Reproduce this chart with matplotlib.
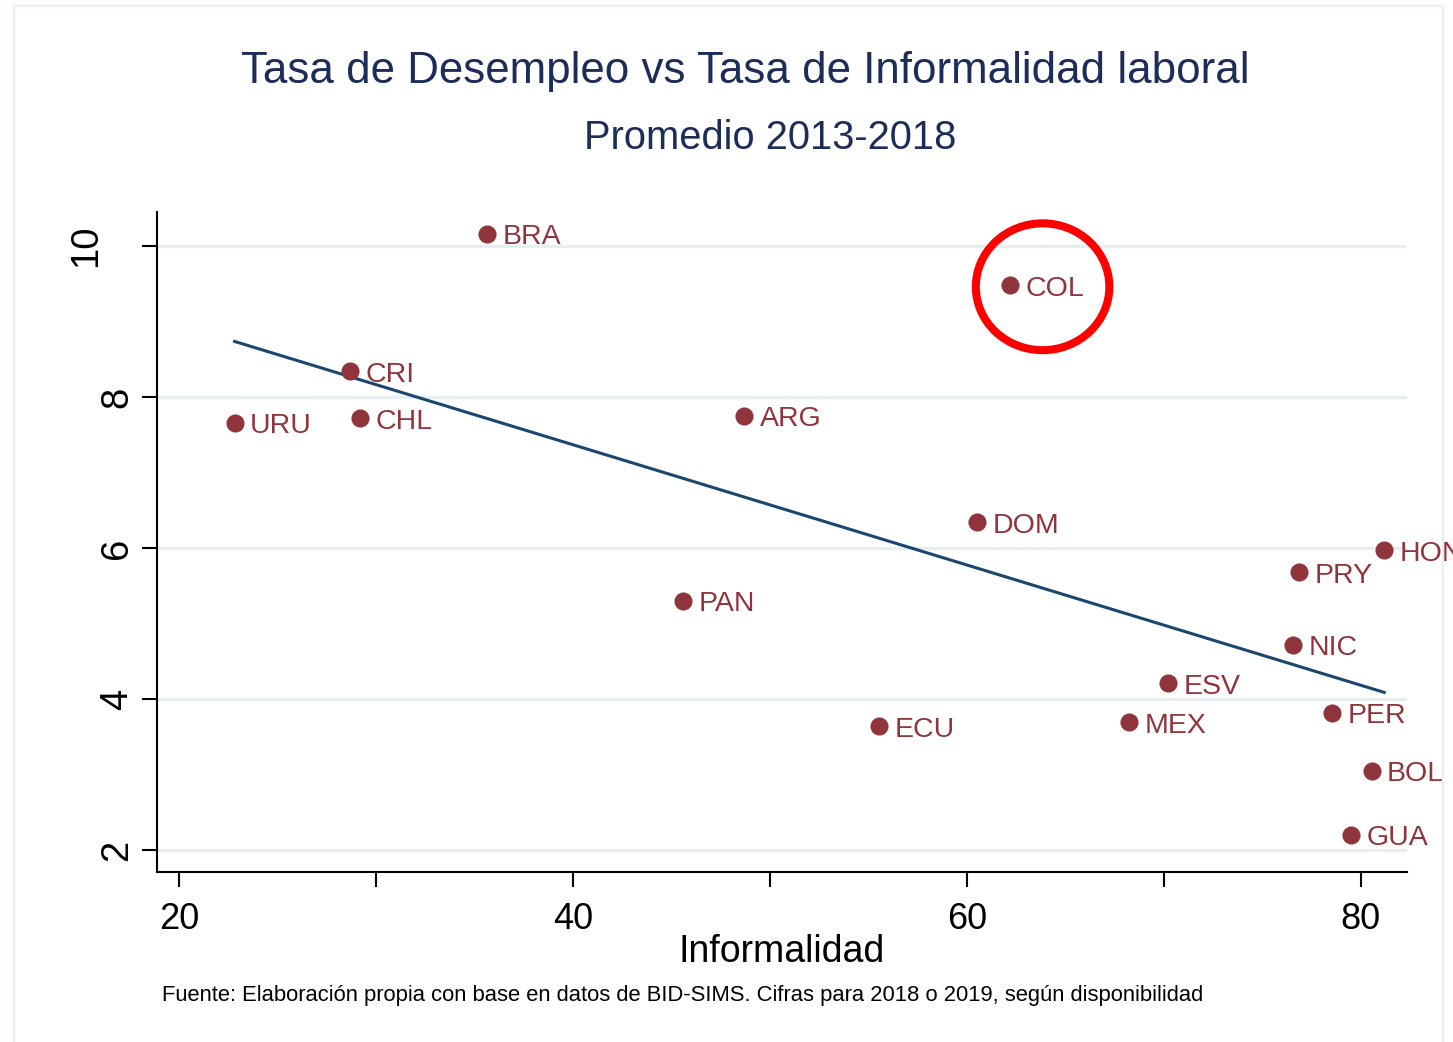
import numpy as np
import matplotlib
matplotlib.use("Agg")
import matplotlib.pyplot as plt
from matplotlib.patches import Ellipse, Rectangle
from matplotlib.transforms import ScaledTranslation

plt.rcParams['font.family'] = ['Liberation Sans', 'DejaVu Sans']

# datos
paises = ['BRA', 'COL', 'CRI', 'URU', 'CHL', 'ARG', 'DOM', 'PAN', 'HON',
          'PRY', 'NIC', 'ESV', 'PER', 'MEX', 'ECU', 'BOL', 'GUA']
informalidad = [35.66, 62.20, 28.71, 22.83, 29.22, 48.70, 60.52, 45.60, 81.19,
                76.86, 76.57, 70.23, 78.55, 68.23, 55.55, 80.55, 79.53]
desempleo = [10.16, 9.48, 8.34, 7.66, 7.72, 7.75, 6.34, 5.30, 5.97,
             5.68, 4.72, 4.21, 3.82, 3.69, 3.64, 3.05, 2.20]

x_ticks = [20, 30, 40, 50, 60, 70, 80]
x_ticklabels = ['20', '', '40', '', '60', '', '80']
y_ticks = [2, 4, 6, 8, 10]
y_ticklabels = ['2', '4', '6', '8', '10']

titulo = 'Tasa de Desempleo vs Tasa de Informalidad laboral'
subtitulo = 'Promedio 2013-2018'
x_titulo = 'Informalidad'
fuente = ('Fuente: Elaboración propia con base en datos de BID-SIMS. '
          'Cifras para 2018 o 2019, según disponibilidad')
destacado = 'COL'

MAROON = '#90353b'
NAVY = '#1a476f'
TITLE_C = '#1c2d5a'
GRID_C = '#e6eef0'

fig = plt.figure(figsize=(14.53, 10.42), dpi=100)
fig.patches.append(Rectangle((14 / 1453, -0.05), (1443 - 14) / 1453, 1.05 - 6.5 / 1042,
                             transform=fig.transFigure, fill=False,
                             ec='#e8f0f2', lw=1.6))

ax = fig.add_axes([157 / 1453, 1 - 872 / 1042, (1407 - 157) / 1453, (872 - 212) / 1042])
ax.set_xlim(18.89, 82.35)
ax.set_ylim(1.71, 10.45)

ax.set_axisbelow(True)
ax.yaxis.grid(True, color=GRID_C, lw=2.2)
ax.xaxis.grid(False)
for s in ['top', 'right']:
    ax.spines[s].set_visible(False)
for s in ['left', 'bottom']:
    ax.spines[s].set_linewidth(1.5)

ax.set_xticks(x_ticks, labels=x_ticklabels)
ax.set_yticks(y_ticks, labels=y_ticklabels)
ax.tick_params(axis='both', direction='out', length=10.8, width=1.5)
ax.tick_params(axis='x', pad=11, labelsize=26)
ax.tick_params(axis='y', pad=5, labelrotation=90, labelsize=27.5)
for lab in ax.get_yticklabels():
    lab.set_va('center')
    if lab.get_text() == '10':
        lab.set_transform(lab.get_transform() +
                          ScaledTranslation(-0.31, 0, fig.dpi_scale_trans))

# recta de ajuste
coef = np.polyfit(informalidad, desempleo, 1)
xs = np.array([min(informalidad), max(informalidad)])
ax.plot(xs, np.polyval(coef, xs), color=NAVY, lw=2.2, zorder=2)

ax.scatter(informalidad, desempleo, s=170, color=MAROON, zorder=3, lw=0)

for p, xv, yv in zip(paises, informalidad, desempleo):
    ax.annotate(p, (xv, yv), xytext=(11, -7.5), textcoords='offset points',
                ha='left', va='baseline', fontsize=20.5, color=MAROON,
                annotation_clip=False)

# circulo rojo sobre Colombia
i = paises.index(destacado)
ax.add_patch(Ellipse((informalidad[i] + 1.65, desempleo[i] - 0.02), 6.78, 1.68,
                     fill=False, ec='#ff0000', lw=5.8, clip_on=False, zorder=4))

fig.text(745 / 1453, 1 - 83 / 1042, titulo, ha='center', va='baseline',
         fontsize=31.6, color=TITLE_C)
fig.text(770 / 1453, 1 - 149 / 1042, subtitulo, ha='center', va='baseline',
         fontsize=28.7, color=TITLE_C)
fig.text(781.5 / 1453, 1 - 962 / 1042, x_titulo, ha='center', va='baseline',
         fontsize=27, color='black')
fig.text(162 / 1453, 1 - 1001 / 1042, fuente, ha='left', va='baseline',
         fontsize=15.8, color='black')

fig.savefig('out.png', dpi=100, facecolor='white')
